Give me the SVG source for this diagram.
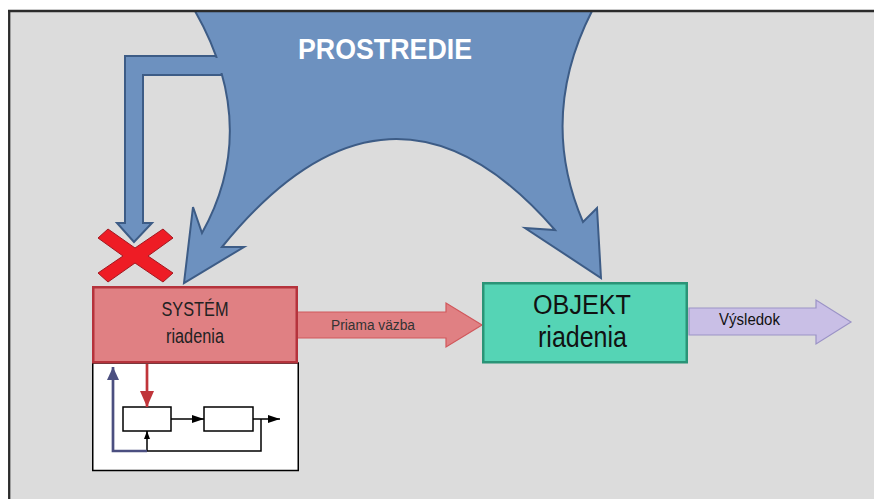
<svg xmlns="http://www.w3.org/2000/svg" width="874" height="499" viewBox="0 0 874 499">
<defs>
<style>
.env{fill:#6d91bf;stroke:#3d5c86;stroke-width:2;stroke-linejoin:miter}
.lbl{font-family:"Liberation Sans",Arial,sans-serif}
.blk{fill:#fff;stroke:#000;stroke-width:1.5}
.ln{fill:none;stroke:#000;stroke-width:1.5}
</style>
<marker id="ah" viewBox="0 0 12 8" refX="12" refY="4" markerWidth="12" markerHeight="8" markerUnits="userSpaceOnUse" orient="auto"><path d="M0,0 L12,4 L0,8 Z" fill="#000"/></marker>
<marker id="ahs" viewBox="0 0 8 6" refX="8" refY="3" markerWidth="8" markerHeight="6" markerUnits="userSpaceOnUse" orient="auto"><path d="M0,0 L8,3 L0,6 Z" fill="#000"/></marker>
<marker id="ahr" viewBox="0 0 16 14" refX="16" refY="7" markerWidth="16" markerHeight="14" markerUnits="userSpaceOnUse" orient="auto"><path d="M0,0 L16,7 L0,14 Z" fill="#c0353a"/></marker>
<marker id="ahb" viewBox="0 0 13 12" refX="13" refY="6" markerWidth="13" markerHeight="12" markerUnits="userSpaceOnUse" orient="auto"><path d="M0,0 L13,6 L0,12 Z" fill="#4b4f80"/></marker>
</defs>
<rect x="0" y="0" width="874" height="499" fill="#ffffff"/>
<rect x="9" y="11" width="870" height="495" fill="#dcdcdc"/>

<g id="prostredie">
<path class="env" d="M240,56 L125,56 L125,223 L117,223 L134,242 L152,223 L143,223 L143,75 L240,75 Z"/>
<path class="env" d="M195,11 Q261,127 202,233 L193,207 L184,283 L244,247 L222,247 Q390,40 555,230 L525,228 L601,278 L597,208 L583,222 Q538,117 592,11 Z"/>
<path d="M212,58 L236,58 L236,73 L212,73 Z" fill="#6d91bf"/>
<text class="lbl" x="298" y="59" font-size="29" font-weight="bold" fill="#ffffff" textLength="174" lengthAdjust="spacingAndGlyphs">PROSTREDIE</text>
</g>

<g id="frame">
<line x1="8" y1="11" x2="874" y2="11" stroke="#2b2b2b" stroke-width="2.5"/>
<line x1="9.2" y1="10" x2="9.2" y2="499" stroke="#2b2b2b" stroke-width="2.3"/>
</g>

<g id="zrusena-vazba">
<path d="M108,229 L135,248 L163,229 L173,238 L148,256 L173,273 L163,282 L135,263 L108,282 L98,273 L123,256 L98,238 Z" fill="#ee1c25" stroke="#a31820" stroke-width="1"/>
</g>

<g id="connectors">
<path d="M297,312 L446,312 L446,303 L482,325 L446,347 L446,338 L297,338 Z" fill="#e08083" stroke="#d0585c" stroke-width="1.2"/>
<text class="lbl" x="331" y="330" font-size="14" fill="#333" textLength="84" lengthAdjust="spacingAndGlyphs">Priama väzba</text>
<path d="M689,308 L816,308 L816,300 L851,322 L816,344 L816,335 L689,335 Z" fill="#c9bfe6" stroke="#9b93c6" stroke-width="1.2"/>
<text class="lbl" x="719" y="325" font-size="16" fill="#111" textLength="61" lengthAdjust="spacingAndGlyphs">Výsledok</text>
</g>

<g id="system-riadenia">
<rect x="92.75" y="363" width="205.5" height="107.5" fill="#ffffff" stroke="#000" stroke-width="1.5"/>
<rect x="93.25" y="287.25" width="203.5" height="75" fill="#e08083" stroke="#b5333c" stroke-width="2.5"/>
<text class="lbl" x="195" y="316" font-size="20" fill="#222" text-anchor="middle" textLength="67" lengthAdjust="spacingAndGlyphs">SYSTÉM</text>
<text class="lbl" x="195" y="343" font-size="20" fill="#222" text-anchor="middle" textLength="58" lengthAdjust="spacingAndGlyphs">riadenia</text>
<g id="vnutorna-schema">
<rect class="blk" x="123" y="407" width="48" height="24"/>
<rect class="blk" x="204" y="407" width="49" height="24"/>
<line class="ln" x1="171" y1="419" x2="204" y2="419" marker-end="url(#ah)"/>
<line class="ln" x1="253" y1="419" x2="280" y2="419" marker-end="url(#ah)"/>
<polyline class="ln" points="261,419 261,451 147,451 147,431" marker-end="url(#ahs)"/>
<polyline points="147,451 113,451 113,367" fill="none" stroke="#4b4f80" stroke-width="2.7" marker-end="url(#ahb)"/>
<line x1="147" y1="364" x2="147" y2="407" stroke="#c0353a" stroke-width="2.7" marker-end="url(#ahr)"/>
</g>
</g>

<g id="objekt-riadenia">
<rect x="483.25" y="283.25" width="203.5" height="79" fill="#55d4b5" stroke="#2a9477" stroke-width="2.5"/>
<text class="lbl" x="582" y="314" font-size="27" fill="#111" text-anchor="middle" textLength="98" lengthAdjust="spacingAndGlyphs">OBJEKT</text>
<text class="lbl" x="582.5" y="347" font-size="29" fill="#111" text-anchor="middle" textLength="89" lengthAdjust="spacingAndGlyphs">riadenia</text>
</g>
</svg>
